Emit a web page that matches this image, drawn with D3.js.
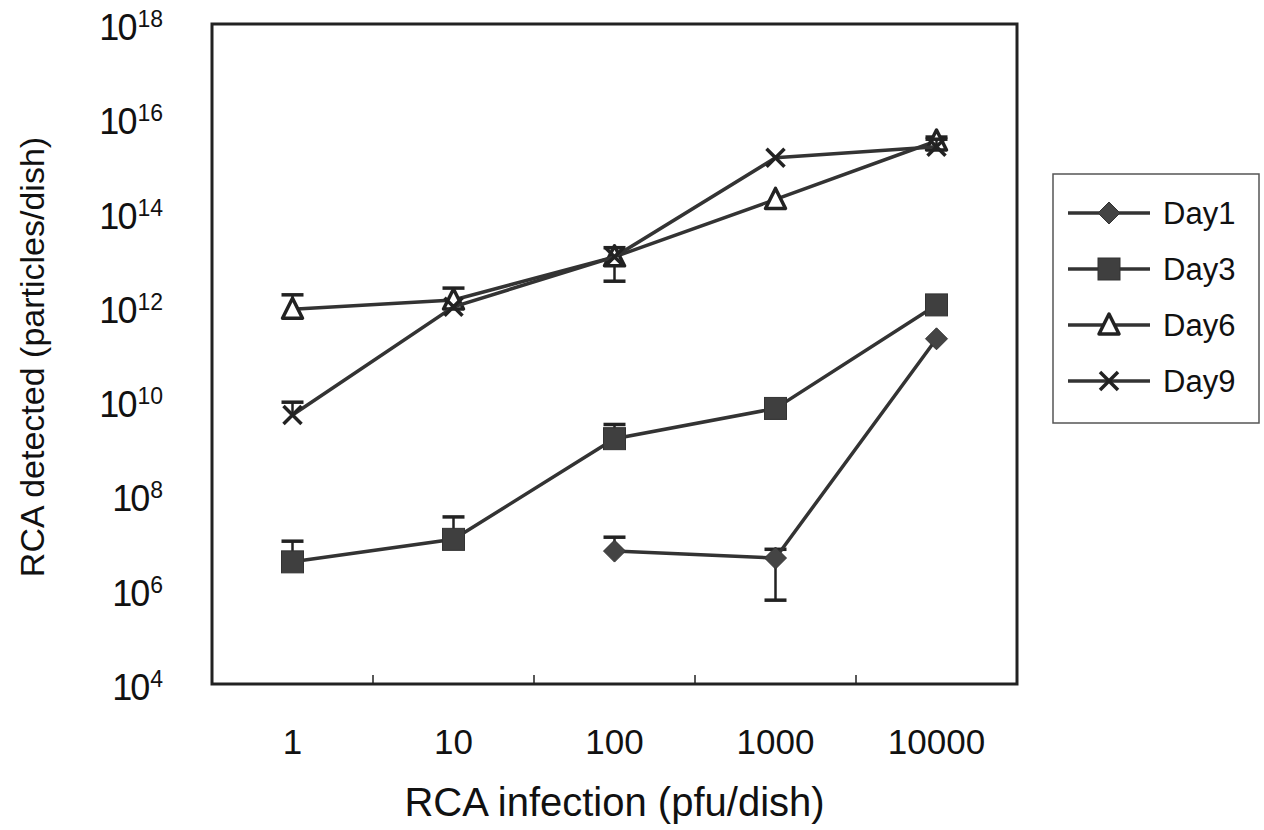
<!DOCTYPE html>
<html>
<head>
<meta charset="utf-8">
<script src="https://cdn.jsdelivr.net/npm/d3@7"></script>
<style>
  body { margin: 0; background: #fff; }
  text { font-family: "Liberation Sans", Arial, sans-serif; fill: #111; }
</style>
</head>
<body>
<div id="chart"></div>
<script>
const doses = ["1", "10", "100", "1000", "10000"];
const yTicks = [1e4, 1e6, 1e8, 1e10, 1e12, 1e14, 1e16, 1e18];

// null = no point at that dose
const day1 = [null, null, 6.6e6, 4.7e6, 2.1e11];
const day1Hi = [null, null, 1.3e7, 7.2e6, null];
const day1Lo = [null, null, null, 6e5, null];

const day3 = [3.9e6, 1.17e7, 1.6e9, 7e9, 1.1e12];
const day3Hi = [1.07e7, 3.5e7, 3.2e9, null, 1.3e12];
const day3Lo = [null, null, null, null, null];

const day6 = [8.9e11, 1.4e12, 1.15e13, 1.9e14, 3.3e15];
const day6Hi = [1.8e12, 2.5e12, 1.8e13, null, 4e15];
const day6Lo = [null, null, 3.5e12, null, null];

const day9 = [5.1e9, 1e12, 1.15e13, 1.45e15, 2.5e15];
const day9Hi = [9.5e9, null, null, null, 3.6e15];
const day9Lo = [null, null, null, null, null];

const series = [
  { name: "Day1", shape: "diamond", v: day1, hi: day1Hi, lo: day1Lo },
  { name: "Day3", shape: "square", v: day3, hi: day3Hi, lo: day3Lo },
  { name: "Day6", shape: "triangle", v: day6, hi: day6Hi, lo: day6Lo },
  { name: "Day9", shape: "cross", v: day9, hi: day9Hi, lo: day9Lo }
];

const width = 1264, height = 830,
  margin = { top: 24, left: 212, right: 247, bottom: 146 },
  innerW = width - margin.left - margin.right,
  innerH = height - margin.top - margin.bottom,
  ink = "#333";

const svg = d3.select('#chart').append('svg')
  .attr('width', width)
  .attr('height', height);

const g = svg.append('g')
  .attr('transform', 'translate(' + margin.left + ',' + margin.top + ')');

const x = d3.scaleBand().domain(doses).range([0, innerW]);
const y = d3.scaleLog().domain([1e4, 1e18]).range([innerH, 0]);

// frame
g.append('rect')
  .attr('width', innerW).attr('height', innerH)
  .attr('fill', 'none').attr('stroke', '#222').attr('stroke-width', 3);

// x ticks between categories, pointing in
g.selectAll('.xtick')
  .data(doses.slice(1))
  .enter().append('line')
  .attr('x1', d => x(d)).attr('x2', d => x(d))
  .attr('y1', innerH).attr('y2', innerH - 9)
  .attr('stroke', '#222').attr('stroke-width', 1.5);

g.selectAll('.xlabel')
  .data(doses)
  .enter().append('text')
  .attr('x', d => x(d) + x.bandwidth() / 2)
  .attr('y', innerH + 70)
  .attr('text-anchor', 'middle')
  .style('font-size', '35px')
  .text(d => d);

const yl = g.selectAll('.ylabel')
  .data(yTicks)
  .enter().append('text')
  .attr('x', -49)
  .attr('y', d => y(d) + 16)
  .attr('text-anchor', 'end')
  .style('font-size', '36px')
  .style('letter-spacing', '-2px');
yl.append('tspan').text('10');
yl.append('tspan')
  .attr('dx', 2)
  .attr('dy', -13)
  .style('font-size', '23px')
  .style('letter-spacing', '0px')
  .text(d => Math.round(Math.log10(d)));

svg.append('text')
  .attr('x', margin.left + innerW / 2)
  .attr('y', 816)
  .attr('text-anchor', 'middle')
  .style('font-size', '40px')
  .text('RCA infection (pfu/dish)');

svg.append('text')
  .attr('transform', 'translate(44,' + (margin.top + innerH / 2 + 3) + ') rotate(-90)')
  .attr('text-anchor', 'middle')
  .style('font-size', '34px')
  .text('RCA detected (particles/dish)');

const marker = (sel, shape) => {
  if (shape === 'diamond') {
    sel.append('path').attr('d', 'M0,-11L11,0L0,11L-11,0Z').attr('fill', '#444').attr('stroke', ink).attr('stroke-width', 1);
  } else if (shape === 'square') {
    sel.append('rect').attr('x', -11).attr('y', -11).attr('width', 22).attr('height', 22).attr('fill', '#3f3f3f').attr('stroke', ink);
  } else if (shape === 'triangle') {
    sel.append('path').attr('d', 'M0,-11L10,9L-10,9Z').attr('fill', '#fff').attr('stroke', '#222').attr('stroke-width', 3.5).attr('stroke-linejoin', 'round');
  } else {
    sel.append('path').attr('d', 'M-9,-9L9,9M9,-9L-9,9').attr('stroke', '#222').attr('stroke-width', 3.5);
  }
};

const cx = i => x(doses[i]) + x.bandwidth() / 2;

series.forEach(s => {
  const pts = s.v.map((d, i) => ({ i: i, v: d, hi: s.hi[i], lo: s.lo[i] })).filter(d => d.v !== null);
  const sg = g.append('g').attr('class', 'series');

  // error bars
  pts.forEach(p => {
    [p.hi, p.lo].forEach(e => {
      if (e === null) return;
      sg.append('line')
        .attr('x1', cx(p.i)).attr('x2', cx(p.i))
        .attr('y1', y(p.v)).attr('y2', y(e))
        .attr('stroke', '#222').attr('stroke-width', 2.5);
      sg.append('line')
        .attr('x1', cx(p.i) - 11).attr('x2', cx(p.i) + 11)
        .attr('y1', y(e)).attr('y2', y(e))
        .attr('stroke', '#222').attr('stroke-width', 3.5);
    });
  });

  sg.append('path')
    .datum(pts)
    .attr('fill', 'none')
    .attr('stroke', ink)
    .attr('stroke-width', 3.5)
    .attr('d', d3.line().x(p => cx(p.i)).y(p => y(p.v)));

  sg.selectAll('.pt')
    .data(pts)
    .enter().append('g')
    .attr('transform', p => 'translate(' + cx(p.i) + ',' + y(p.v) + ')')
    .each(function () { marker(d3.select(this), s.shape); });
});

// legend
const lg = svg.append('g').attr('transform', 'translate(1053,174)');
lg.append('rect')
  .attr('width', 206).attr('height', 249)
  .attr('fill', '#fff').attr('stroke', '#555').attr('stroke-width', 1.5);

const item = lg.selectAll('.item')
  .data(series)
  .enter().append('g')
  .attr('transform', (d, i) => 'translate(0,' + (39 + i * 56) + ')');
item.append('line')
  .attr('x1', 15).attr('x2', 97)
  .attr('stroke', ink).attr('stroke-width', 3.5);
item.append('g')
  .attr('transform', 'translate(56,0)')
  .each(function (d) { marker(d3.select(this), d.shape); });
item.append('text')
  .attr('x', 110).attr('y', 11)
  .style('font-size', '31px')
  .text(d => d.name);
</script>
</body>
</html>
